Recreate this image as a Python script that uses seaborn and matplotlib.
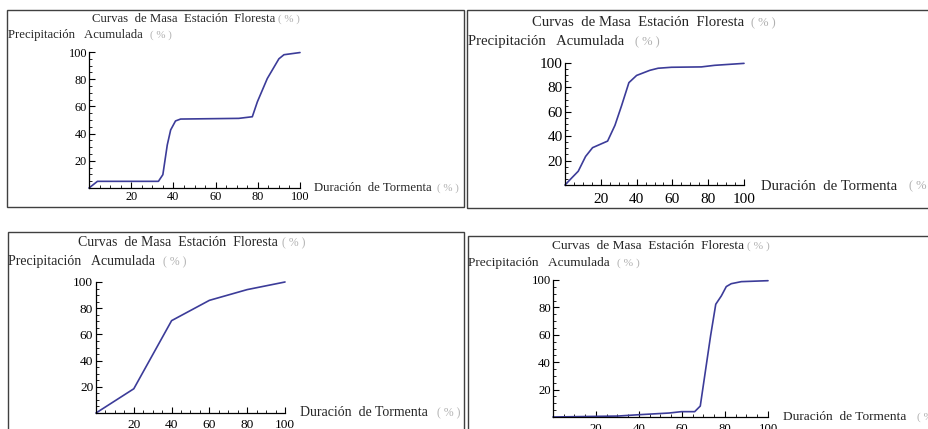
import matplotlib
matplotlib.use("Agg")
import matplotlib.pyplot as plt
import seaborn as sns
import pandas as pd
from matplotlib.patches import Rectangle
from matplotlib.ticker import MultipleLocator, FixedLocator

sns.set_theme(style="white")
plt.rcParams['font.family'] = ['Liberation Serif', 'DejaVu Serif']

# ---------------- data ----------------
dur1 = [0, 4, 32.9, 35, 37.1, 38.7, 41, 43.4, 71, 77.4, 79.8, 84.5, 90, 92.4, 100]
pp1 = [0, 4.9, 4.9, 9.8, 31.7, 42.7, 49.3, 50.7, 51.2, 52.4, 63.4, 80.5, 95, 98, 99.6]

dur2 = [0, 3.3, 7.4, 11.5, 15.4, 23.8, 27.9, 31.6, 35.7, 40, 47.4, 52, 59.5, 76.2, 83.6, 100]
pp2 = [0, 5.1, 11.3, 23.4, 30.6, 36, 48.9, 65, 83.9, 89.8, 94, 95.7, 96.5, 96.8, 98.1, 99.7]

dur3 = [0, 20, 40, 60, 80, 100]
pp3 = [0, 18.5, 70.5, 86, 94.2, 100]

dur4 = [0, 30.2, 40.3, 54, 59.7, 65.9, 68.5, 73.3, 75.7, 78.3, 80.6, 82.9, 87.6, 100]
pp4 = [0, 0.7, 1.7, 2.9, 3.9, 3.9, 8, 59.3, 82.3, 88.4, 95.2, 97.3, 98.8, 99.5]

major_ticks = [20, 40, 60, 80, 100]
tick_labels = ["20", "40", "60", "80", "100"]

title_txt = "Curvas  de Masa  Estación  Floresta"
ylab_txt = "Precipitación   Acumulada"
xlab_txt = "Duración  de Tormenta"
pct_txt = "( % )"

W, H = 929, 429
LINE = "#3c3c99"
GRAY = "#b0b0b0"

fig = plt.figure(figsize=(W / 100, H / 100), dpi=100)
fig.patch.set_facecolor("white")


def fx(x):
    return x / W


def fy(y):
    return 1 - y / H


panels = [
    dict(d=(dur1, pp1), ax=(89, 300, 188, 52), box=(7.5, 10, 464, 207),
         tfs=9.2, lfs=8.8, title=(92, 19, 278), ylab=(8, 35, 150), xlab=(314, 188, 437),
         ypad=1.5, xpad=2.4),
    dict(d=(dur2, pp2), ax=(565, 744, 185, 63), box=(467.5, 10, 940, 208),
         tfs=10.6, lfs=11.0, title=(532, 23, 751), ylab=(468, 42, 635), xlab=(761, 186, 909),
         ypad=1.5, xpad=6.0),
    dict(d=(dur3, pp3), ax=(96, 285, 413, 282), box=(8, 232, 464, 440),
         tfs=10.0, lfs=9.6, title=(78, 243, 282), ylab=(8, 262, 163), xlab=(300, 413, 437),
         ypad=2.0, xpad=4.6),
    dict(d=(dur4, pp4), ax=(553, 768, 417, 280), box=(468, 236, 940, 440),
         tfs=9.6, lfs=9.2, title=(552, 246, 747), ylab=(468, 263, 617), xlab=(783, 417, 917),
         ypad=1.5, xpad=4.6),
]

for p in panels:
    x0, x100, y0, y100 = p["ax"]
    ax = fig.add_axes([fx(x0), fy(y0), (x100 - x0) / W, (y0 - y100) / H])
    ax.set_facecolor("none")
    df = pd.DataFrame({"dur": p["d"][0], "pp": p["d"][1]})
    sns.lineplot(data=df, x="dur", y="pp", ax=ax, color=LINE, linewidth=1.2,
                 estimator=None, sort=False, clip_on=False)
    ax.set_xlim(0, 100)
    ax.set_ylim(0, 100)
    ax.set_xlabel("")
    ax.set_ylabel("")
    for s in ["top", "right"]:
        ax.spines[s].set_visible(False)
    for s in ["left", "bottom"]:
        ax.spines[s].set_color("black")
        ax.spines[s].set_linewidth(0.9)
    ax.xaxis.set_major_locator(FixedLocator(major_ticks))
    ax.yaxis.set_major_locator(FixedLocator(major_ticks))
    ax.set_xticklabels(tick_labels)
    ax.set_yticklabels(tick_labels)
    ax.xaxis.set_minor_locator(MultipleLocator(5))
    ax.yaxis.set_minor_locator(MultipleLocator(5))
    ax.tick_params(which="major", direction="in", length=4, width=0.8, color="black",
                   labelsize=p["lfs"], labelcolor="black")
    ax.tick_params(which="minor", direction="in", length=2, width=0.6, color="black")
    ax.tick_params(axis="x", which="major", pad=p["xpad"])
    ax.tick_params(axis="y", which="major", pad=p["ypad"])
    ax.tick_params(axis="x", which="both", bottom=True)
    ax.tick_params(axis="y", which="both", left=True)
    ax.grid(False)

    # frame
    bx0, by0, bx1, by1 = p["box"]
    fig.patches.append(Rectangle((fx(bx0), fy(by1)), (bx1 - bx0) / W, (by1 - by0) / H,
                                 transform=fig.transFigure, fill=False,
                                 edgecolor="#404040", linewidth=1.0))

    tx, ty, tpx = p["title"]
    fig.text(fx(tx), fy(ty), title_txt, fontsize=p["tfs"], ha="left", va="center")
    fig.text(fx(tpx), fy(ty), pct_txt, fontsize=p["tfs"] * 0.85, ha="left", va="center", color=GRAY)
    lx, ly, lpx = p["ylab"]
    fig.text(fx(lx), fy(ly), ylab_txt, fontsize=p["tfs"], ha="left", va="center")
    fig.text(fx(lpx), fy(ly), pct_txt, fontsize=p["tfs"] * 0.85, ha="left", va="center", color=GRAY)
    xx, xy, xpx = p["xlab"]
    fig.text(fx(xx), fy(xy), xlab_txt, fontsize=p["tfs"], ha="left", va="center")
    fig.text(fx(xpx), fy(xy), pct_txt, fontsize=p["tfs"] * 0.85, ha="left", va="center", color=GRAY)

fig.savefig("out.png", dpi=100, facecolor="white")
